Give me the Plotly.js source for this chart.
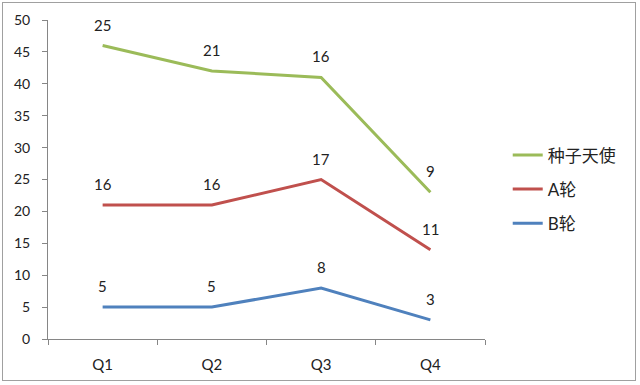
<!DOCTYPE html>
<html><head><meta charset="utf-8">
<script src="https://cdn.plot.ly/plotly-3.0.1.min.js"></script>
<style>
body{margin:0;padding:0;background:#fff;}
#wrap{position:relative;width:640px;height:385px;}
#chart{width:640px;height:385px;}
#frame{position:absolute;left:2px;top:2px;width:634px;height:379px;border:1px solid #a0a0a0;pointer-events:none;box-sizing:border-box;}
</style>
</head><body>
<div id="wrap"><div id="chart"></div><div id="frame"></div></div>
<script>
const quarters = ['Q1','Q2','Q3','Q4'];
const seedAngel = [25, 21, 16, 9];   // 种子天使
const roundA = [16, 16, 17, 11];     // A轮
const roundB = [5, 5, 8, 3];         // B轮
const seriesNames = ['种子天使','A轮','B轮'];
const colors = ['#9BBB59','#C0504D','#4F81BD'];

// stacked line values
const cumB = roundB.slice();
const cumA = roundA.map((v,i)=>v+cumB[i]);
const cumSeed = seedAngel.map((v,i)=>v+cumA[i]);

const fam = 'Lato, "Noto Sans CJK SC", sans-serif';
const tickFont = {family:fam, size:14, color:'#222'};
const labelFont = {family:fam, size:15, color:'#222'};
const legendFont = {family:'Lato, "Noto Sans CJK SC", sans-serif', size:17, color:'#222'};

const series = [
  {name:seriesNames[0], raw:seedAngel, y:cumSeed, color:colors[0]},
  {name:seriesNames[1], raw:roundA, y:cumA, color:colors[1]},
  {name:seriesNames[2], raw:roundB, y:cumB, color:colors[2]}
];

const traces = series.map((s,i)=>({
  x: quarters, y: s.y, name: s.name, type:'scatter', mode:'lines',
  line:{color:s.color, width:3}, legendgroup:'g'+i, hoverinfo:'skip'
}));

const annotations = [];
series.forEach(s=>{
  quarters.forEach((q,j)=>{
    annotations.push({x:q, y:s.y[j], xref:'x', yref:'y', text:String(s.raw[j]),
      showarrow:false, yshift:21, yanchor:'middle', xanchor:'center', font:labelFont});
  });
});

const layout = {
  width:640, height:385,
  margin:{l:48, r:155, t:20, b:46, pad:0},
  paper_bgcolor:'#fff', plot_bgcolor:'#fff',
  font:tickFont,
  showlegend:true,
  legend:{x:1.052, xanchor:'left', y:0.632, yanchor:'top', traceorder:'grouped', tracegroupgap:9,
    font:legendFont, bgcolor:'rgba(0,0,0,0)', itemwidth:30},
  xaxis:{type:'category', range:[-0.5,3.5], showgrid:false, zeroline:false,
    showline:true, linecolor:'#868686', linewidth:1, ticks:'outside', tickson:'boundaries',
    ticklen:5, tickcolor:'#868686', tickfont:{family:fam, size:15, color:'#222'},
    ticklabelstandoff:12, fixedrange:true},
  yaxis:{range:[0,50], dtick:5, showgrid:false, zeroline:false, showline:true,
    linecolor:'#868686', linewidth:1, ticks:'outside', ticklen:5, tickcolor:'#868686',
    tickfont:tickFont, ticklabelstandoff:9, fixedrange:true},
  annotations:annotations
};

Plotly.newPlot('chart', traces, layout, {displayModeBar:false, staticPlot:true});
</script>
</body></html>
